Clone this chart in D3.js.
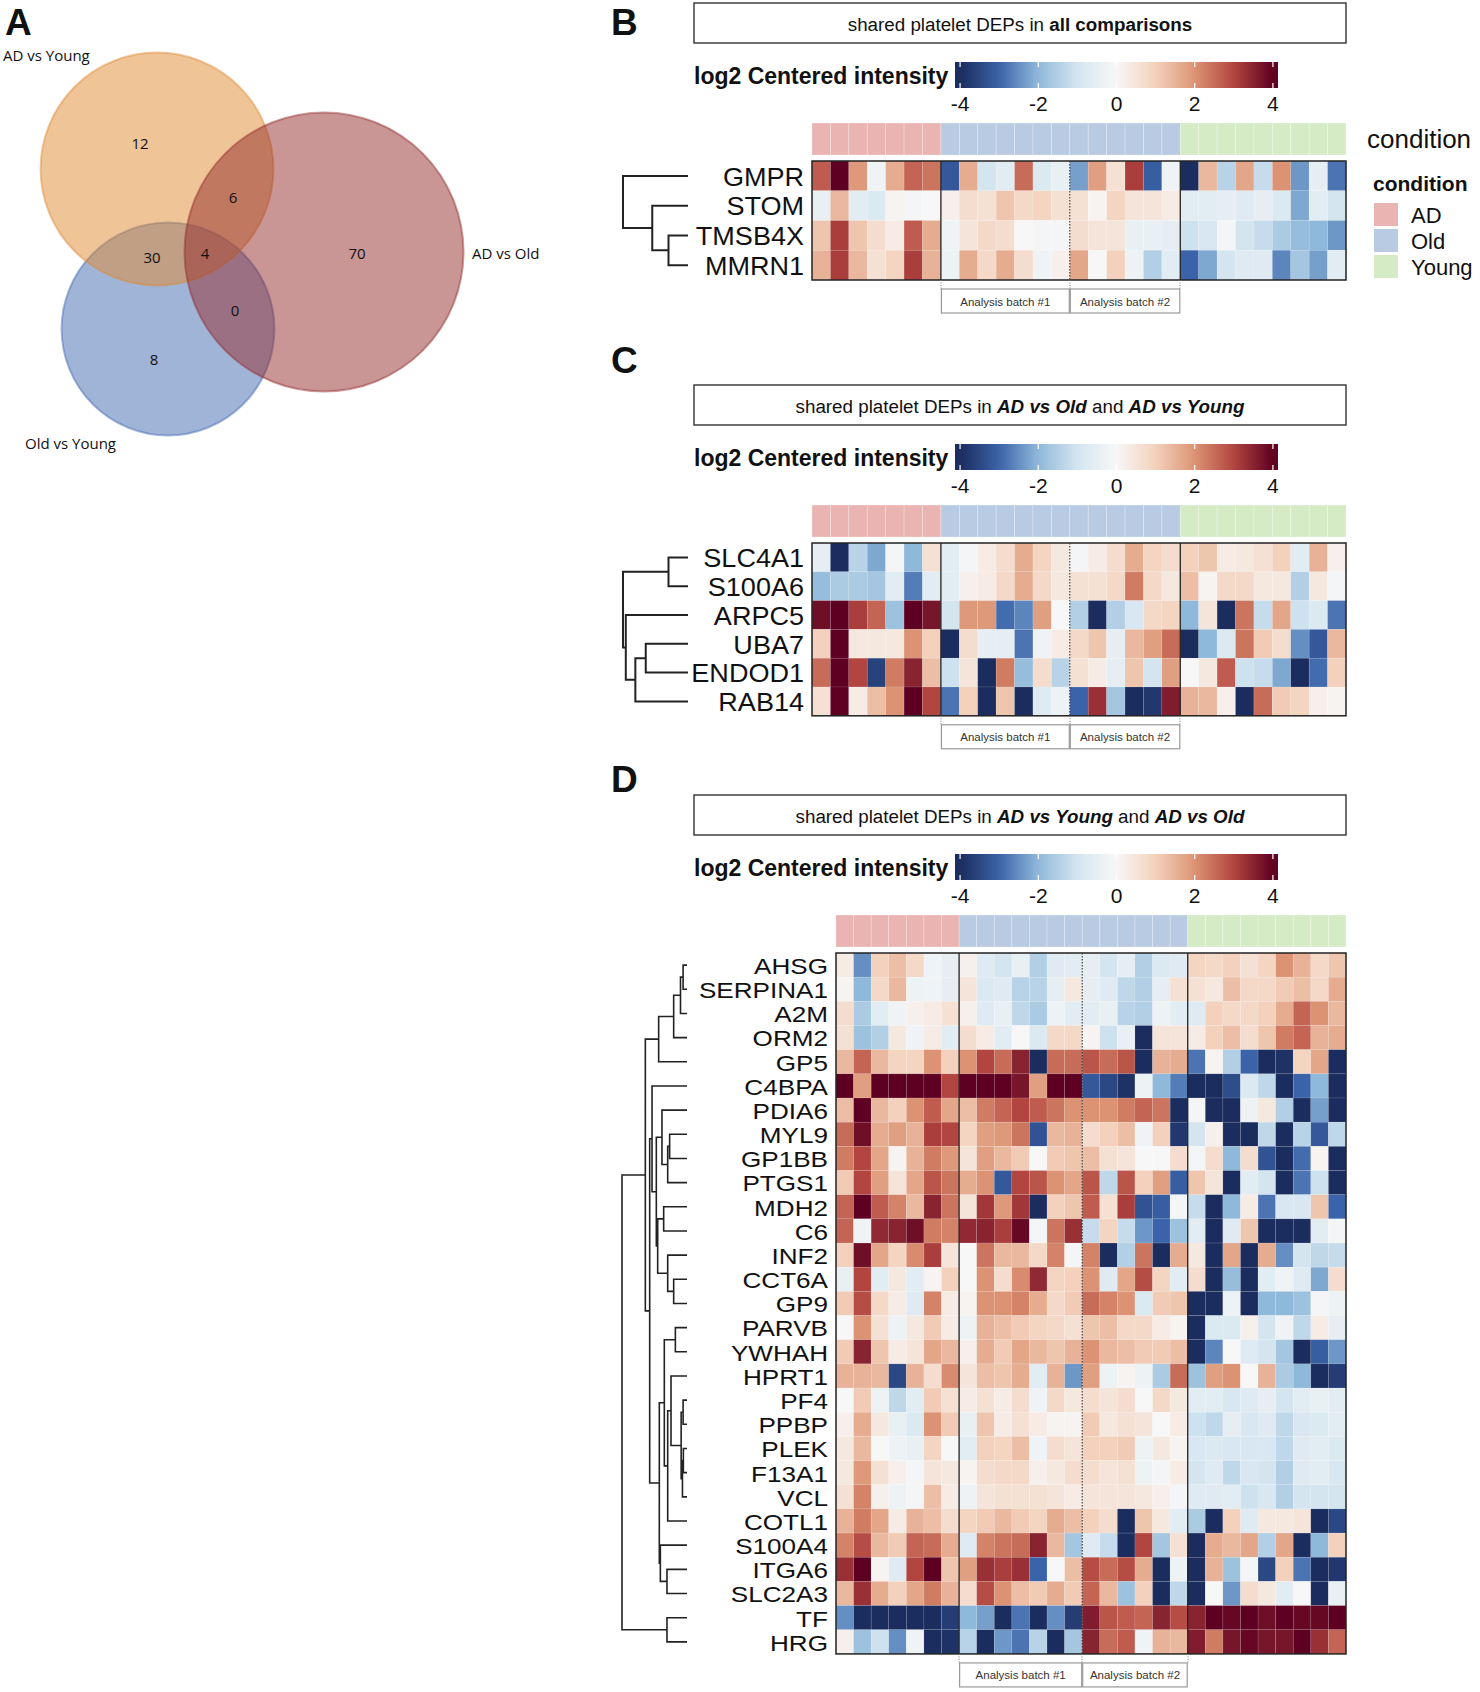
<!DOCTYPE html>
<html>
<head>
<meta charset="utf-8">
<script src="https://cdn.jsdelivr.net/npm/d3@7"></script>
<style>
  body { margin: 0; background: #fff; }
  svg { display: block; }
  text { font-family: "Liberation Sans", Arial, sans-serif; fill: #111; }
  .venn text { font-family: "Open Sans", "Noto Sans", sans-serif; }
</style>
</head>
<body>
<svg id="fig" width="1480" height="1692"></svg>
<script>
// ---------- data ----------
const vennSets = ['AD vs Young', 'AD vs Old', 'Old vs Young'];
const vennMembers = [[0], [0, 1], [0, 2], [0, 1, 2], [1], [1, 2], [2]];
const vennCounts = [12, 6, 30, 4, 70, 0, 8];

// 29 samples: condition and analysis batch (Old only)
const sampleCondition = [
  'AD','AD','AD','AD','AD','AD','AD',
  'Old','Old','Old','Old','Old','Old','Old','Old','Old','Old','Old','Old','Old',
  'Young','Young','Young','Young','Young','Young','Young','Young','Young'];
const sampleBatch = [0,0,0,0,0,0,0, 1,1,1,1,1,1,1, 2,2,2,2,2,2, 0,0,0,0,0,0,0,0,0];
const batchNames = ['Analysis batch #1', 'Analysis batch #2'];
const conditionNames = ['AD', 'Old', 'Young'];
const colorTicks = [-4, -2, 0, 2, 4];

const genesB = ['GMPR', 'STOM', 'TMSB4X', 'MMRN1'];
const valuesB = [
  [2.7,4,1.9,-0.2,1.6,2.6,2.4, -3.2,1.6,-1,-0.6,2.5,-0.8,-0.4, -2.3,1.8,0.6,3.1,-3.1,-0.2, -4,1.4,-1.4,1.7,-1.2,2,-2.4,-0.5,-2.8],
  [-0.4,1.4,-0.6,-0.8,0.1,-0.1,0, 0.2,0.7,0.6,1.2,0.8,0.9,0.6, 0.6,0.1,0.9,0.5,0.5,0.3, -0.6,-0.6,-0.5,-0.7,-0.5,-0.8,-2.2,-0.6,-1],
  [1.2,3.1,1.2,0.7,0.3,2.7,1.6, -0.2,0.5,0.8,0.7,0,-0.1,-0.1, 0.7,0.5,0.5,-0.4,-0.4,-0.5, -1.1,-0.9,-0.1,-1,-1.2,-1.6,-1.9,-2,-2.4],
  [1.5,3.1,1.4,0.6,0.9,3.1,1.5, -0.3,1.6,0.8,1.6,0.7,-0.2,0.2, 1.7,0,1,-0.3,-1.5,-0.6, -3,-2.2,-1,-0.7,-0.7,-2.6,-1.7,-2.3,-0.6]
];
// hclust-style merges: negative = leaf (1-based), positive = earlier merge
const mergeB = [[-3, -4, 0.30], [-2, 1, 0.55], [-1, 2, 1.0]];

const genesC = ['SLC4A1', 'S100A6', 'ARPC5', 'UBA7', 'ENDOD1', 'RAB14'];
const valuesC = [
  [-0.5,-4,-1.4,-2.2,-0.1,-2,0.6, -0.6,-0.1,0.3,0.7,1.6,0.9,0.4, -0.1,0.3,0.7,1.6,0.9,0.7, 1,1.2,0.3,0.4,0.6,1,-0.6,1.5,0.2],
  [-1.9,-1.6,-1.6,-1.7,-0.6,-2.7,-0.6, -0.6,0.2,0.3,0.8,1.6,0.8,0.4, 0.6,0.6,0.8,2.3,0.8,0.4, 1.3,0.1,0.8,0.8,0.4,0.4,-1.5,0.4,-0.1],
  [3.8,4,3.1,2.6,-1.8,4,3.7, -1,1.9,1.9,-2.9,-2.6,1.8,0, -1.5,-4,-1.5,-0.9,0.8,0.9, -2,0.5,-4,2.4,-1.2,1.7,-1.1,-0.8,-2.8],
  [1,4,0.4,0.4,0.4,2,1, -4,0.7,-0.5,-0.5,-2.8,-0.2,0.3, 0.8,1.2,-0.5,1.4,1.8,2.5, -4,-2,-0.8,2.4,1.1,0.7,-2.5,-3.2,1.4],
  [2.5,4,3,-3.6,2.3,3.5,1.3, -1.1,0.5,-4,2.3,-1.9,0.7,-1.4, 0.6,0.3,-0.5,1.2,-1,1.8, 0,0.4,2.7,-1.1,-1.2,-2.2,-4,-2.9,1],
  [0.6,4,0.3,1.3,2,4,3, -2.8,1,-4,1.2,-4,-0.7,-0.3, -3,3.3,-1.7,-4,-3.8,3.6, 1.5,1.4,0.2,-4,2.5,1.1,0.9,0.2,0.1]
];
const mergeC = [[-1, -2, 0.30], [-4, -5, 0.65], [2, -6, 0.81], [-3, 3, 0.957], [1, 4, 1.0]];

const genesD = ['AHSG','SERPINA1','A2M','ORM2','GP5','C4BPA','PDIA6','MYL9','GP1BB','PTGS1',
  'MDH2','C6','INF2','CCT6A','GP9','PARVB','YWHAH','HPRT1','PF4','PPBP','PLEK','F13A1','VCL',
  'COTL1','S100A4','ITGA6','SLC2A3','TF','HRG'];
const valuesD = [
  [0.3,-2.5,1,1.3,0.8,-0.2,-0.5, 0.2,-0.7,-1,-0.4,-1.5,-0.7,-0.6, -0.5,-1,-0.5,-1.5,-0.8,-0.7, 0.9,0.8,1,0.6,0.9,2,1.5,0.8,1.2],
  [0.1,-2,0.8,1.4,-0.3,-0.2,-0.5, 0.5,-0.8,-0.7,-1.4,-1.4,-0.5,0.4, -0.5,-0.7,-1.3,-1.5,-0.5,0.6, 0.6,0.4,1.3,0.8,0.8,1.1,1.3,0.8,1.6],
  [0.7,-1.6,-0.6,-0.2,0.2,0.3,0.6, 0.2,-0.7,-0.4,-1.3,-1.6,-0.3,-0.6, -0.6,-0.4,-1.4,-1.5,-0.3,-0.6, -0.7,1,0.8,0.8,1,1.6,2.6,2,1.4],
  [0.6,-1.8,-1.5,0.4,-0.2,0.3,-0.6, 0.7,0.3,-0.6,0,-0.8,0.8,0.8, 0.1,-1.1,-0.4,-4,0.5,0.5, 0.3,1,1.3,0.7,1.2,2.3,2.6,1.5,1.6],
  [1.4,2.6,1.4,0.9,0.9,2,1, 2,3,2.5,3.5,-4,2.5,2.5, 2.8,2.5,2.8,-4,1.5,1.6, -2.8,0.1,-1.5,-3,-4,-3.9,0.9,1.7,-4],
  [4,1.8,4,4,4,4,3, 4,4,4,3.7,1.8,4,4, -3.2,-3.5,-3.9,-0.3,-2,-2.7, -4,-4,-3.4,-0.8,-1.3,-4,-3,-2,-4],
  [1.3,4,1.4,1,2,2.7,1.7, 1.3,2.3,2.6,3,2.7,2.4,2, 2,2,2.3,2.6,2.4,-4, -0.1,-4,-4,-0.3,0.4,-1.5,-4,-2.3,-4],
  [2.5,3.8,1.6,1.8,1.5,3.1,3, 0.9,1.8,1.9,2.4,-3.3,1.4,1.5, 0.7,1,1.3,-0.2,1,-3.8, -1,0.2,-4,-4,-1.3,-4,-1.4,-3.2,-1.3],
  [2.3,3,1.7,0.1,1.5,2.3,1.9, 0.5,1.8,1.4,1.1,0,1.1,1.2, 1.3,0.6,0.5,0,0,0.7, -0.1,0.7,-2,0.7,-3.3,-4,-2.9,0.1,-4],
  [1.1,3,1.8,0.5,1.7,2.8,2.4, 1.6,2,-3.2,3,2.8,2,1.7, 2.8,-1.3,2.8,1,1.8,-3.1, 1.2,0.5,-4,-0.6,-1,-4,-2.8,-1.1,-4],
  [2.6,4,2.7,2.2,1.4,3.5,2.4, 0.5,3.2,1.9,3.2,-4,1,1.2, 2.7,0.6,3.1,-3.3,-3.1,-0.1, -1.2,-4,-2,0.3,-2.8,-0.9,-0.9,1.2,-3],
  [2.6,-0.2,3.4,3.5,3.8,2.3,2.2, 3.4,3.5,3.1,3.9,-0.1,2.4,3.3, -1.2,0.9,-1.2,-2.4,-3,-1.8, -0.6,-4,-0.7,1.2,-4,-4,-4,-0.6,-0.1],
  [1,3.8,1.7,0.9,2.1,3.1,0.5, 0,2.4,1.4,1.4,0.8,2.2,-0.1, 2.2,-4,-1.5,2.4,-4,1.6, 0.4,-4,1.7,-4,1.6,-2.5,-1,-1.3,-1.2],
  [-0.4,3,-0.6,0.4,-0.6,0.1,1, 0,2,0.7,2.1,3.4,0.9,1, 2,-0.7,1.7,2.9,0.9,-0.6, 0.7,-4,-1.9,-4,-0.6,-0.2,-0.7,-2.2,0.7],
  [1.1,2.9,0.8,0.3,-0.7,2.2,0.3, 0.1,2,2,2.2,1.6,0.8,1.1, 2.5,2.2,2,-0.8,1.1,1.2, -4,-4,-0.3,-4,-2,-2,-1.8,-0.1,-0.3],
  [0,2,0.6,-0.3,0.4,1.1,0.3, -0.3,1.5,1.3,1.1,0.9,0.8,0.6, 1.2,1.3,0.8,0.8,0.3,0.1, -4,-0.8,-0.8,0.2,-1,-0.2,-1.3,0.3,-0.5],
  [1.1,3.5,1.2,0.3,0.5,1.7,1.4, 0.2,1.6,1.1,1.7,1.4,1.2,1.5, 2,1.4,1.3,1.1,1.1,1.3, -4,-2.6,0,-0.7,-1,-1.7,-4,-3.1,-2.4],
  [1.5,1.5,1.4,-3.5,1.5,0.7,2.1, 0.5,1.3,1.2,1.6,-0.6,1.5,-2.4, 1.8,-0.3,0.1,-0.3,-1.6,2.5, -1.8,1.8,2,0,1.5,-1.6,-2,-4,-3.7],
  [0,1.1,-0.3,-1.3,-0.6,1.1,0.6, 0.3,0.6,0.3,0.7,-0.2,0.8,0.4, 0.7,0.5,0.7,0,0.8,0.4, -0.6,-0.6,-0.9,-0.7,-0.5,-1,-0.6,-0.4,-0.6],
  [0.2,1.6,0.4,-0.4,-0.8,2,1.1, -0.4,1.2,0.3,0.6,0.3,0.1,0.1, 1.1,0.4,0.6,0.5,0,0.3, -1.1,-1.3,-0.5,-0.9,-0.7,-1.3,-0.9,-0.8,-0.6],
  [0.4,1.4,0,-0.3,-0.4,0.9,0, -0.6,1,0.9,1.3,-0.2,0.7,0.5, 1,1,1.1,-0.3,0.4,0.1, -0.9,-0.8,-0.9,-0.9,-0.9,-1.3,-0.7,-0.6,-0.8],
  [0.4,1.9,0.6,0.2,-0.1,0.5,0.4, 0.1,0.7,0.8,0.8,0.2,0.4,0.7, 0.7,0.5,0.6,-0.3,-0.1,0.3, -1,-0.7,-1.3,-0.9,-1,-1.5,-0.7,-0.6,-0.9],
  [0.6,2.2,0.2,-0.3,-0.1,1.3,0.3, -0.3,0.5,0.6,0.6,0.6,0.5,0.3, 0.5,0.5,0.5,0.4,0.2,-0.1, -0.7,-0.7,-0.6,-1.1,-0.9,-1.5,-1,-1,-1],
  [1.5,2.3,1.7,0.3,1.5,1.3,0.7, 0.9,1.1,1.4,1.1,0.9,1.6,1.3, 1,0.7,-4,1.2,0.4,-0.6, -1.6,-4,1,-0.7,0.4,0.4,0.5,-4,-3.5],
  [2.2,2.9,1.4,1.1,2.6,2.5,1.6, -0.7,2.2,2.4,2.5,3.5,1.4,-1.7, -0.7,-1.2,-4,3,-1.7,0.6, -4,1.6,1.4,1.7,-1.5,1.7,-4,-2,1],
  [3.3,4,0.1,-0.7,3,4,1.2, 1.8,3.3,3.1,3.3,-3,0,1.3, 2.9,2.5,2.9,1.6,-4,-0.3, -4,1.5,-1.8,-0.1,-3.5,1,-2.8,-4,-3.8],
  [1.4,3.3,1.6,1,1.7,2.3,1.5, 0.7,2.9,2,1.3,1.1,1.6,1.1, 2.6,1.4,-1.8,1,-4,-1.3, -4,0,-2.4,0.7,0.4,-0.6,0,-4,-0.4],
  [-2.5,-4,-4,-4,-4,-4,-3.7, -2,-2.3,-4,-2.8,-4,-2.5,-3.7, 3.6,2.8,2.7,2.6,3.5,2.9, 3.5,4,3.9,4,3.8,4,3.9,3.9,4],
  [0.2,-1.8,-1.1,-2.5,-0.2,-4,-3.9, -1.4,-4,-2.4,-2.8,-1.4,-4,-1.7, 3.5,2.5,2.7,-0.2,1.5,1.4, 3.6,2.3,3.7,3.9,3.7,3.7,4,3.3,2.6]
];
const mergeD = [
  [-1, -2, 0.06], [1, -3, 0.10], [2, -4, 0.205], [3, -5, 0.436],
  [-8, -9, 0.267], [5, -10, 0.297], [-7, 6, 0.385],
  [-11, -12, 0.359], [-14, -15, 0.205], [-13, 9, 0.297], [8, 10, 0.451],
  [7, 11, 0.472], [-6, 12, 0.538],
  [-16, -17, 0.179], [-19, -20, 0.06], [-21, -22, 0.056], [16, -23, 0.07],
  [15, 17, 0.09], [-18, 18, 0.246], [19, -24, 0.297], [14, 20, 0.349],
  [-26, -27, 0.308], [-25, 22, 0.41], [21, 23, 0.426],
  [13, 24, 0.574], [4, 25, 0.641], [-28, -29, 0.308], [26, 27, 1.0]
];

// ---------- styles ----------
const heatColor = d3.scaleLinear()
  .domain([-4, -3, -2, -1, 0, 1, 2, 3, 4])
  .range(['#1b2c5e', '#3b63a9', '#8fb9da', '#d4e5f0', '#f7f7f7', '#f3d1bc', '#dc9373', '#b2453f', '#5e0021'])
  .clamp(true);
const condColor = d3.scaleOrdinal().domain(conditionNames).range(['#eab4b2', '#b9cbe3', '#d5ebc6']);

const svg = d3.select('#fig');
const RIGHT = 1346;

// ---------- panel A: venn ----------
const venn = svg.append('g').attr('class', 'venn');
svg.append('text').attr('x', 5).attr('y', 35).attr('font-size', 37).attr('font-weight', 'bold').text('A');

const setTotals = vennSets.map((s, i) => d3.sum(vennCounts.filter((c, k) => vennMembers[k].includes(i))));
const rScale = d3.scalePow().exponent(0.42).domain([0, d3.max(setTotals)]).range([0, 139.5]);
const vennLayout = {
  centers: [[157, 169], [324, 252], [168, 329]],
  fills: ['#e08a30', '#932b2b', '#4169b1'],
  drawOrder: [2, 0, 1],
  nameAt: [[3, 55], [472, 253], [25, 443]],
  countAt: [[140, 143], [233, 197], [152, 257], [205, 253], [357, 253], [235, 310], [154, 359]]
};
vennLayout.drawOrder.forEach(i => {
  venn.append('circle')
    .attr('cx', vennLayout.centers[i][0]).attr('cy', vennLayout.centers[i][1])
    .attr('r', rScale(setTotals[i]))
    .attr('fill', vennLayout.fills[i]).attr('fill-opacity', 0.5)
    .attr('stroke', vennLayout.fills[i]).attr('stroke-opacity', 0.45).attr('stroke-width', 2);
});
vennSets.forEach((s, i) => {
  venn.append('text').attr('x', vennLayout.nameAt[i][0]).attr('y', vennLayout.nameAt[i][1])
    .attr('dominant-baseline', 'central').attr('font-size', 15).text(s);
});
vennCounts.forEach((c, k) => {
  venn.append('text').attr('x', vennLayout.countAt[k][0]).attr('y', vennLayout.countAt[k][1])
    .attr('text-anchor', 'middle').attr('dominant-baseline', 'central').attr('font-size', 15).text(c);
});

// ---------- heatmap panels ----------
const defs = svg.append('defs');
const grad = defs.append('linearGradient').attr('id', 'cbar').attr('x1', '0%').attr('x2', '100%');
d3.range(0, 41).forEach(i => {
  const v = -4.13 + i * (8.26 / 40);
  grad.append('stop').attr('offset', (i / 40 * 100) + '%').attr('stop-color', heatColor(v));
});

// column boundaries derived from sample annotation
const condBreaks = d3.range(1, sampleCondition.length).filter(i => sampleCondition[i] !== sampleCondition[i - 1]);
const batchBreaks = d3.range(1, sampleBatch.length).filter(i => sampleBatch[i] && sampleBatch[i - 1] && sampleBatch[i] !== sampleBatch[i - 1]);

function drawPanel(p) {
  const g = svg.append('g');
  const T = p.top;
  g.append('text').attr('x', 611).attr('y', p.letterY).attr('font-size', 37).attr('font-weight', 'bold').text(p.letter);

  // title box
  g.append('rect').attr('x', 694).attr('y', T).attr('width', RIGHT - 694).attr('height', 40)
    .attr('fill', '#fff').attr('stroke', '#222').attr('stroke-width', 1.3);
  const tt = g.append('text').attr('x', (694 + RIGHT) / 2).attr('y', T + 21)
    .attr('text-anchor', 'middle').attr('dominant-baseline', 'central').attr('font-size', 18.8);
  p.title.forEach(part => tt.append('tspan').text(part[0])
    .attr('font-weight', part[1] ? 'bold' : null)
    .attr('font-style', part[2] ? 'italic' : null));

  // color bar
  const cb = d3.scaleLinear().domain([-4.13, 4.13]).range([955, 1278]);
  g.append('text').attr('x', 694).attr('y', T + 73).attr('dominant-baseline', 'central')
    .attr('font-size', 23).attr('font-weight', 'bold').text('log2 Centered intensity');
  g.append('rect').attr('x', cb.range()[0]).attr('y', T + 59).attr('width', cb.range()[1] - cb.range()[0])
    .attr('height', 26).attr('fill', 'url(#cbar)');
  colorTicks.forEach(t => {
    g.append('line').attr('x1', cb(t)).attr('x2', cb(t)).attr('y1', T + 59).attr('y2', T + 64)
      .attr('stroke', '#fff').attr('stroke-width', 1.2);
    g.append('line').attr('x1', cb(t)).attr('x2', cb(t)).attr('y1', T + 80).attr('y2', T + 85)
      .attr('stroke', '#fff').attr('stroke-width', 1.2);
    g.append('text').attr('x', cb(t)).attr('y', T + 100).attr('text-anchor', 'middle')
      .attr('dominant-baseline', 'central').attr('font-size', 21).text(t);
  });

  // scales
  const x = d3.scaleBand().domain(d3.range(sampleCondition.length)).range([p.x0, RIGHT]);
  const hTop = T + 158;
  const y = d3.scaleBand().domain(p.genes).range([hTop, hTop + p.rowH * p.genes.length]);
  const hBot = y.range()[1];

  // annotation bar
  g.selectAll('.ann').data(sampleCondition).join('rect')
    .attr('x', (d, i) => x(i)).attr('y', T + 120).attr('width', x.bandwidth()).attr('height', 32)
    .attr('fill', d => condColor(d)).attr('stroke', 'rgba(255,255,255,0.35)').attr('stroke-width', 0.7);

  // cells
  p.values.forEach((row, r) => {
    g.selectAll(null).data(row).join('rect')
      .attr('x', (d, i) => x(i)).attr('y', y(p.genes[r]))
      .attr('width', x.bandwidth()).attr('height', y.bandwidth())
      .attr('fill', d => heatColor(d)).attr('stroke', 'rgba(255,255,255,0.18)').attr('stroke-width', 0.6);
  });
  g.append('rect').attr('x', p.x0).attr('y', hTop).attr('width', RIGHT - p.x0).attr('height', hBot - hTop)
    .attr('fill', 'none').attr('stroke', '#222').attr('stroke-width', 1.5);
  condBreaks.forEach(b => g.append('line').attr('x1', x(b)).attr('x2', x(b)).attr('y1', hTop).attr('y2', hBot)
    .attr('stroke', '#222').attr('stroke-width', 1.3));
  batchBreaks.forEach(b => g.append('line').attr('x1', x(b)).attr('x2', x(b)).attr('y1', hTop).attr('y2', hBot)
    .attr('stroke', '#333').attr('stroke-width', 1.1).attr('stroke-dasharray', '1.5,1.5'));

  // batch boxes under Old
  const batchEdges = [];
  batchNames.forEach((nm, k) => {
    const idx = d3.range(sampleBatch.length).filter(i => sampleBatch[i] === k + 1);
    const bx0 = x(idx[0]), bx1 = x(idx[idx.length - 1]) + x.bandwidth();
    batchEdges.push(bx0, bx1);
    g.append('rect').attr('x', bx0 + 0.5).attr('y', hBot + 9).attr('width', bx1 - bx0 - 1).attr('height', 24)
      .attr('fill', '#fff').attr('stroke', '#999').attr('stroke-width', 1.2);
    g.append('text').attr('x', (bx0 + bx1) / 2).attr('y', hBot + 21.5).attr('text-anchor', 'middle')
      .attr('dominant-baseline', 'central').attr('font-size', 11.5).style('fill', '#333').text(nm);
  });
  Array.from(new Set(batchEdges.map(v => Math.round(v)))).forEach(ex => {
    g.append('line').attr('x1', ex).attr('x2', ex).attr('y1', hBot).attr('y2', hBot + 9)
      .attr('stroke', '#777').attr('stroke-width', 1).attr('stroke-dasharray', '1,1.5');
  });

  // row labels (slightly widened glyphs, as in the original figure)
  p.genes.forEach(gn => {
    g.append('text')
      .attr('transform', `translate(${p.x0 - 8},${y(gn) + y.bandwidth() / 2 + 1}) scale(${p.labelStretch},1)`)
      .attr('text-anchor', 'end').attr('dominant-baseline', 'central')
      .attr('font-size', p.labelSize).text(gn);
  });

  // dendrogram
  const hx = d3.scaleLinear().domain([0, d3.max(p.merge, m => m[2])]).range([p.leafX, p.rootX]);
  const nodeY = [], nodeH = [];
  const pos = k => k < 0 ? [y(p.genes[-k - 1]) + y.bandwidth() / 2, 0] : [nodeY[k - 1], nodeH[k - 1]];
  const path = d3.path();
  p.merge.forEach(([a, b, h], i) => {
    const A = pos(a), B = pos(b);
    nodeY[i] = (A[0] + B[0]) / 2; nodeH[i] = h;
    path.moveTo(hx(A[1]), A[0]); path.lineTo(hx(h), A[0]);
    path.lineTo(hx(h), B[0]); path.lineTo(hx(B[1]), B[0]);
  });
  g.append('path').attr('d', path.toString()).attr('fill', 'none')
    .attr('stroke', '#222').attr('stroke-width', p.dendroW);
}

drawPanel({ letter: 'B', letterY: 35, top: 3, x0: 812, rowH: 29.75, genes: genesB, values: valuesB,
  merge: mergeB, leafX: 688, rootX: 623, labelSize: 26, labelStretch: 1.04, dendroW: 2,
  title: [['shared platelet DEPs in ', false], ['all comparisons', true, false]] });
drawPanel({ letter: 'C', letterY: 373, top: 385, x0: 812, rowH: 28.8, genes: genesC, values: valuesC,
  merge: mergeC, leafX: 688, rootX: 623, labelSize: 26, labelStretch: 1.04, dendroW: 2,
  title: [['shared platelet DEPs in ', false], ['AD vs Old', true, true], [' and ', false], ['AD vs Young', true, true]] });
drawPanel({ letter: 'D', letterY: 792, top: 795, x0: 836, rowH: 24.17, genes: genesD, values: valuesD,
  merge: mergeD, leafX: 687, rootX: 622, labelSize: 22.5, labelStretch: 1.16, dendroW: 1.6,
  title: [['shared platelet DEPs in ', false], ['AD vs Young', true, true], [' and ', false], ['AD vs Old', true, true]] });

// ---------- condition legend (panel B) ----------
const leg = svg.append('g');
leg.append('text').attr('x', 1367).attr('y', 139).attr('dominant-baseline', 'central').attr('font-size', 26).text('condition');
leg.append('text').attr('x', 1373).attr('y', 183).attr('dominant-baseline', 'central')
  .attr('font-size', 21).attr('font-weight', 'bold').text('condition');
conditionNames.forEach((c, i) => {
  leg.append('rect').attr('x', 1374).attr('y', 203 + i * 26).attr('width', 24).attr('height', 23).attr('fill', condColor(c));
  leg.append('text').attr('x', 1411).attr('y', 215 + i * 26).attr('dominant-baseline', 'central')
    .attr('font-size', 22).text(c);
});
</script>
</body>
</html>
